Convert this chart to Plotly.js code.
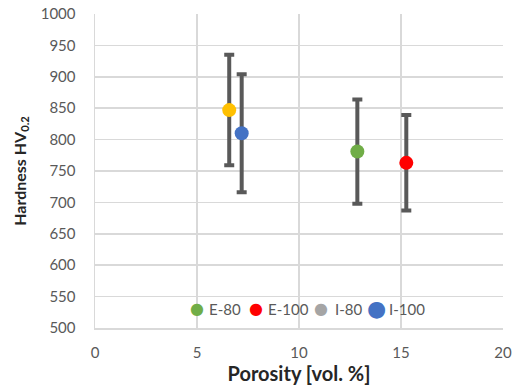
<!DOCTYPE html>
<html><head><meta charset="utf-8">
<script src="https://cdn.plot.ly/plotly-3.0.1.min.js"></script>
<style>html,body{margin:0;padding:0;background:#fff}</style>
</head><body><div id="chart" style="width:520px;height:391px"></div>
<script>
const seriesNames = ["E-80", "E-100", "I-80", "I-100"];
const porosity = [12.86, 15.26, 6.58, 7.19];
const hardness = [781, 763, 847, 810];
const hardnessErr = [83, 76, 88, 94];
const pointColors = ["#70AD47", "#FF0000", "#FFC000", "#4472C4"];
const legendColors = ["#70AD47", "#FF0000", "#A5A5A5", "#4472C4"];
const xTicks = [0, 5, 10, 15, 20];
const yTicks = [500, 550, 600, 650, 700, 750, 800, 850, 900, 950, 1000];

const font = "Lato, 'Open Sans', sans-serif";
const traces = seriesNames.map((n, i) => ({
  type: "scatter", mode: "markers", name: n, showlegend: false,
  x: [porosity[i]], y: [hardness[i]],
  marker: {color: pointColors[i], size: 14},
  error_y: {type: "data", array: [hardnessErr[i]], visible: true, color: "#595959", thickness: 4, width: 5}
}));

// legend drawn as text items (layout positions in paper fractions)
const legMarkX = [0.25, 0.3946, 0.554, 0.691];
const legTextX = [0.2745, 0.419, 0.583, 0.716];
const legMarkSize = [16, 16, 16, 22];
const legY = 0.062;
const annotations = [];
seriesNames.forEach((n, i) => {
  annotations.push({xref: "paper", yref: "paper", x: legMarkX[i], y: legY, xanchor: "center", yanchor: "middle",
    text: "●", showarrow: false, font: {family: "DejaVu Sans", size: legMarkSize[i], color: legendColors[i]}});
  annotations.push({xref: "paper", yref: "paper", x: legTextX[i], y: legY, xanchor: "left", yanchor: "middle",
    text: n, showarrow: false, font: {family: font, size: 15, color: "#595959"}});
});

const layout = {
  width: 520, height: 391,
  margin: {l: 95, r: 17, t: 14, b: 63},
  paper_bgcolor: "#fff", plot_bgcolor: "#fff",
  font: {family: font, color: "#595959", size: 15},
  showlegend: false,
  annotations: annotations,
  xaxis: {
    range: [0, 20], tickvals: xTicks, ticktext: xTicks.map(String),
    showgrid: true, gridcolor: "#d9d9d9", gridwidth: 1.5,
    showline: true, linecolor: "#d9d9d9", linewidth: 1.5, zeroline: false,
    ticks: "outside", ticklen: 10, tickcolor: "rgba(0,0,0,0)",
    title: {text: "Porosity [vol. %]", font: {family: font, size: 20, color: "#262626", weight: "bold"}, standoff: 4}
  },
  yaxis: {
    range: [500, 1000], tickvals: yTicks, ticktext: yTicks.map(String),
    showgrid: true, gridcolor: "#d9d9d9", gridwidth: 1.5,
    showline: true, linecolor: "#d9d9d9", linewidth: 1.5, zeroline: false,
    ticks: "outside", ticklen: 15, tickcolor: "rgba(0,0,0,0)",
    title: {text: "Hardness HV<sub>0.2</sub>", font: {family: font, size: 16, color: "#262626", weight: "bold"}, standoff: 10}
  }
};
Plotly.newPlot("chart", traces, layout, {displayModeBar: false, staticPlot: true});
</script></body></html>
